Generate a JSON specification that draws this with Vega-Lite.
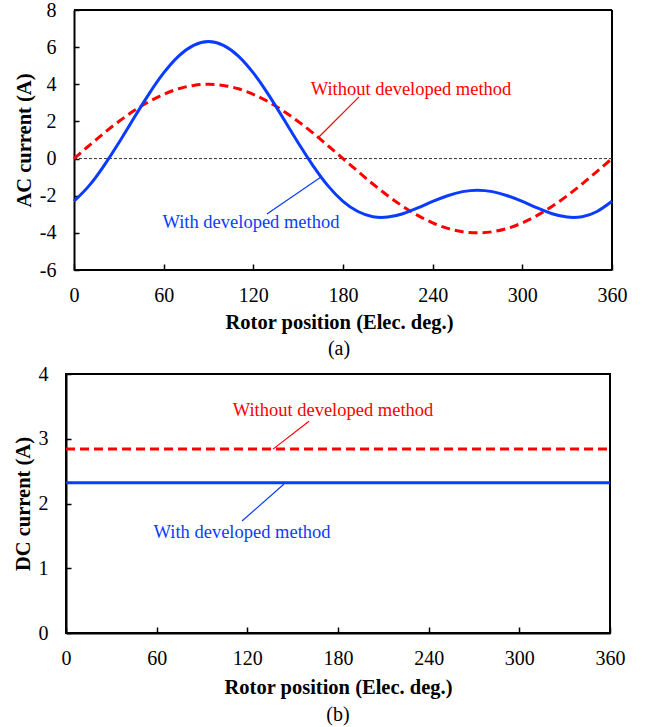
{
  "$schema": "https://vega.github.io/schema/vega-lite/v6.json",
  "background": "white",
  "padding": {"left": 12, "top": 0, "right": 5, "bottom": 0},
  "spacing": 4,
  "config": {
    "font": "Liberation Serif",
    "view": {"stroke": "black", "strokeWidth": 2},
    "axis": {
      "grid": false,
      "domainColor": "black",
      "domainWidth": 2,
      "tickColor": "black",
      "tickWidth": 1.5,
      "labelFlush": false,
      "labelFont": "Liberation Serif",
      "labelFontSize": 20,
      "labelColor": "black",
      "titleFont": "Liberation Serif",
      "titleFontSize": 20.5,
      "titleFontWeight": "bold",
      "titleColor": "black"
    },
    "title": {"font": "Liberation Serif", "fontSize": 20, "fontWeight": "normal", "color": "black"}
  },
  "datasets": {
    "ac": [
      {"deg": 0, "current": -2.30, "series": "With"},
      {"deg": 10, "current": -1.47, "series": "With"},
      {"deg": 20, "current": -0.39, "series": "With"},
      {"deg": 30, "current": 0.85, "series": "With"},
      {"deg": 40, "current": 2.17, "series": "With"},
      {"deg": 50, "current": 3.46, "series": "With"},
      {"deg": 60, "current": 4.61, "series": "With"},
      {"deg": 70, "current": 5.52, "series": "With"},
      {"deg": 80, "current": 6.10, "series": "With"},
      {"deg": 90, "current": 6.30, "series": "With"},
      {"deg": 100, "current": 6.10, "series": "With"},
      {"deg": 110, "current": 5.52, "series": "With"},
      {"deg": 120, "current": 4.61, "series": "With"},
      {"deg": 130, "current": 3.46, "series": "With"},
      {"deg": 140, "current": 2.17, "series": "With"},
      {"deg": 150, "current": 0.85, "series": "With"},
      {"deg": 160, "current": -0.39, "series": "With"},
      {"deg": 170, "current": -1.47, "series": "With"},
      {"deg": 180, "current": -2.30, "series": "With"},
      {"deg": 190, "current": -2.85, "series": "With"},
      {"deg": 200, "current": -3.13, "series": "With"},
      {"deg": 210, "current": -3.15, "series": "With"},
      {"deg": 220, "current": -2.97, "series": "With"},
      {"deg": 230, "current": -2.66, "series": "With"},
      {"deg": 240, "current": -2.31, "series": "With"},
      {"deg": 250, "current": -2.00, "series": "With"},
      {"deg": 260, "current": -1.78, "series": "With"},
      {"deg": 270, "current": -1.70, "series": "With"},
      {"deg": 280, "current": -1.78, "series": "With"},
      {"deg": 290, "current": -2.00, "series": "With"},
      {"deg": 300, "current": -2.31, "series": "With"},
      {"deg": 310, "current": -2.66, "series": "With"},
      {"deg": 320, "current": -2.97, "series": "With"},
      {"deg": 330, "current": -3.15, "series": "With"},
      {"deg": 340, "current": -3.13, "series": "With"},
      {"deg": 350, "current": -2.85, "series": "With"},
      {"deg": 360, "current": -2.30, "series": "With"},
      {"deg": 0, "current": 0.00, "series": "Without"},
      {"deg": 10, "current": 0.69, "series": "Without"},
      {"deg": 20, "current": 1.37, "series": "Without"},
      {"deg": 30, "current": 2.00, "series": "Without"},
      {"deg": 40, "current": 2.57, "series": "Without"},
      {"deg": 50, "current": 3.06, "series": "Without"},
      {"deg": 60, "current": 3.46, "series": "Without"},
      {"deg": 70, "current": 3.76, "series": "Without"},
      {"deg": 80, "current": 3.94, "series": "Without"},
      {"deg": 90, "current": 4.00, "series": "Without"},
      {"deg": 100, "current": 3.94, "series": "Without"},
      {"deg": 110, "current": 3.76, "series": "Without"},
      {"deg": 120, "current": 3.46, "series": "Without"},
      {"deg": 130, "current": 3.06, "series": "Without"},
      {"deg": 140, "current": 2.57, "series": "Without"},
      {"deg": 150, "current": 2.00, "series": "Without"},
      {"deg": 160, "current": 1.37, "series": "Without"},
      {"deg": 170, "current": 0.69, "series": "Without"},
      {"deg": 180, "current": 0.00, "series": "Without"},
      {"deg": 190, "current": -0.69, "series": "Without"},
      {"deg": 200, "current": -1.37, "series": "Without"},
      {"deg": 210, "current": -2.00, "series": "Without"},
      {"deg": 220, "current": -2.57, "series": "Without"},
      {"deg": 230, "current": -3.06, "series": "Without"},
      {"deg": 240, "current": -3.46, "series": "Without"},
      {"deg": 250, "current": -3.76, "series": "Without"},
      {"deg": 260, "current": -3.94, "series": "Without"},
      {"deg": 270, "current": -4.00, "series": "Without"},
      {"deg": 280, "current": -3.94, "series": "Without"},
      {"deg": 290, "current": -3.76, "series": "Without"},
      {"deg": 300, "current": -3.46, "series": "Without"},
      {"deg": 310, "current": -3.06, "series": "Without"},
      {"deg": 320, "current": -2.57, "series": "Without"},
      {"deg": 330, "current": -2.00, "series": "Without"},
      {"deg": 340, "current": -1.37, "series": "Without"},
      {"deg": 350, "current": -0.69, "series": "Without"},
      {"deg": 360, "current": 0.00, "series": "Without"}
    ],
    "dc": [
      {"deg": 0, "current": 2.32, "series": "With"},
      {"deg": 360, "current": 2.32, "series": "With"},
      {"deg": 0, "current": 2.84, "series": "Without"},
      {"deg": 360, "current": 2.84, "series": "Without"}
    ],
    "acFrame": [
      {"x1": 0, "x2": 360, "y1": 8, "y2": 8},
      {"x1": 0, "x2": 360, "y1": -6, "y2": -6},
      {"x1": 360, "x2": 360, "y1": -6, "y2": 8}
    ],
    "acZero": [
      {"x1": 0, "x2": 360, "y1": 0, "y2": 0}
    ],
    "acNotes": [
      {"series": "Without", "label": "Without developed method", "tx": 225.5, "ty": 3.75, "x1": 190.7, "y1": 3.32, "x2": 163.9, "y2": 1.16},
      {"series": "With", "label": "With developed method", "tx": 118.4, "ty": -3.42, "x1": 165.3, "y1": -0.99, "x2": 129.1, "y2": -2.99}
    ],
    "dcNotes": [
      {"series": "Without", "label": "Without developed method", "tx": 176.7, "ty": 3.44, "x1": 160.8, "y1": 3.27, "x2": 137.0, "y2": 2.84},
      {"series": "With", "label": "With developed method", "tx": 116.5, "ty": 1.56, "x1": 144.3, "y1": 2.30, "x2": 116.5, "y2": 1.73}
    ]
  },
  "vconcat": [
    {
      "width": 546,
      "height": 260,
      "view": {"stroke": null},
      "title": {"text": "(a)", "orient": "bottom", "offset": 6},
      "encoding": {
        "x": {"field": "deg", "type": "quantitative", "scale": {"domain": [-5.35, 360], "nice": false, "zero": false},
          "axis": {"title": "Rotor position (Elec. deg.)", "values": [0, 60, 120, 180, 240, 300, 360], "domain": false, "tickSize": -6, "labelPadding": 21, "titlePadding": 7}},
        "y": {"field": "current", "type": "quantitative", "scale": {"domain": [-6, 8], "nice": false},
          "axis": {"title": "AC current (A)", "values": [-6, -4, -2, 0, 2, 4, 6, 8], "offset": -8, "tickSize": -5, "labelPadding": 23, "titlePadding": 5,
            "labelExpr": "datum.value < 0 ? '-' + abs(datum.value) : '' + datum.value"}}
      },
      "layer": [
        {"data": {"name": "acFrame"},
          "mark": {"type": "rule", "color": "black", "strokeWidth": 2},
          "encoding": {"x": {"field": "x1", "type": "quantitative"}, "y": {"field": "y1", "type": "quantitative"}, "x2": {"field": "x2"}, "y2": {"field": "y2"}}},
        {"data": {"name": "acZero"},
          "mark": {"type": "rule", "color": "#333333", "strokeWidth": 1, "strokeDash": [3, 2]},
          "encoding": {"x": {"field": "x1", "type": "quantitative"}, "y": {"field": "y1", "type": "quantitative"}, "x2": {"field": "x2"}, "y2": {"field": "y2"}}},
        {"data": {"name": "ac"}, "transform": [{"filter": "datum.series === 'Without'"}],
          "mark": {"type": "line", "color": "#ff0000", "strokeWidth": 3, "strokeDash": [9, 5], "interpolate": "natural"}},
        {"data": {"name": "ac"}, "transform": [{"filter": "datum.series === 'With'"}],
          "mark": {"type": "line", "color": "#0a3cff", "strokeWidth": 3, "interpolate": "natural"}},
        {"data": {"name": "acNotes"},
          "mark": {"type": "rule", "strokeWidth": 1.2},
          "encoding": {"x": {"field": "x1", "type": "quantitative"}, "y": {"field": "y1", "type": "quantitative"}, "x2": {"field": "x2"}, "y2": {"field": "y2"},
            "color": {"field": "series", "type": "nominal", "scale": {"domain": ["With", "Without"], "range": ["#0a3cff", "#ff0000"]}, "legend": null}}},
        {"data": {"name": "acNotes"},
          "mark": {"type": "text", "fontSize": 18.5, "align": "center", "baseline": "middle"},
          "encoding": {"x": {"field": "tx", "type": "quantitative"}, "y": {"field": "ty", "type": "quantitative"}, "text": {"field": "label"},
            "color": {"field": "series", "type": "nominal", "scale": {"domain": ["With", "Without"], "range": ["#0a3cff", "#ff0000"]}, "legend": null}}}
      ]
    },
    {
      "width": 544,
      "height": 259,
      "title": {"text": "(b)", "orient": "bottom", "offset": 7},
      "encoding": {
        "x": {"field": "deg", "type": "quantitative", "scale": {"domain": [0, 360], "nice": false},
          "axis": {"title": "Rotor position (Elec. deg.)", "values": [0, 60, 120, 180, 240, 300, 360], "tickSize": -6, "labelPadding": 21, "titlePadding": 9}},
        "y": {"field": "current", "type": "quantitative", "scale": {"domain": [0, 4], "nice": false},
          "axis": {"title": "DC current (A)", "values": [0, 1, 2, 3, 4], "tickSize": -5, "labelPadding": 23, "titlePadding": 5}}
      },
      "layer": [
        {"data": {"name": "dc"}, "transform": [{"filter": "datum.series === 'Without'"}],
          "mark": {"type": "line", "color": "#ff0000", "strokeWidth": 3, "strokeDash": [9, 5]}},
        {"data": {"name": "dc"}, "transform": [{"filter": "datum.series === 'With'"}],
          "mark": {"type": "line", "color": "#0a3cff", "strokeWidth": 3}},
        {"data": {"name": "dcNotes"},
          "mark": {"type": "rule", "strokeWidth": 1.2},
          "encoding": {"x": {"field": "x1", "type": "quantitative"}, "y": {"field": "y1", "type": "quantitative"}, "x2": {"field": "x2"}, "y2": {"field": "y2"},
            "color": {"field": "series", "type": "nominal", "scale": {"domain": ["With", "Without"], "range": ["#0a3cff", "#ff0000"]}, "legend": null}}},
        {"data": {"name": "dcNotes"},
          "mark": {"type": "text", "fontSize": 18.5, "align": "center", "baseline": "middle"},
          "encoding": {"x": {"field": "tx", "type": "quantitative"}, "y": {"field": "ty", "type": "quantitative"}, "text": {"field": "label"},
            "color": {"field": "series", "type": "nominal", "scale": {"domain": ["With", "Without"], "range": ["#0a3cff", "#ff0000"]}, "legend": null}}}
      ]
    }
  ]
}
